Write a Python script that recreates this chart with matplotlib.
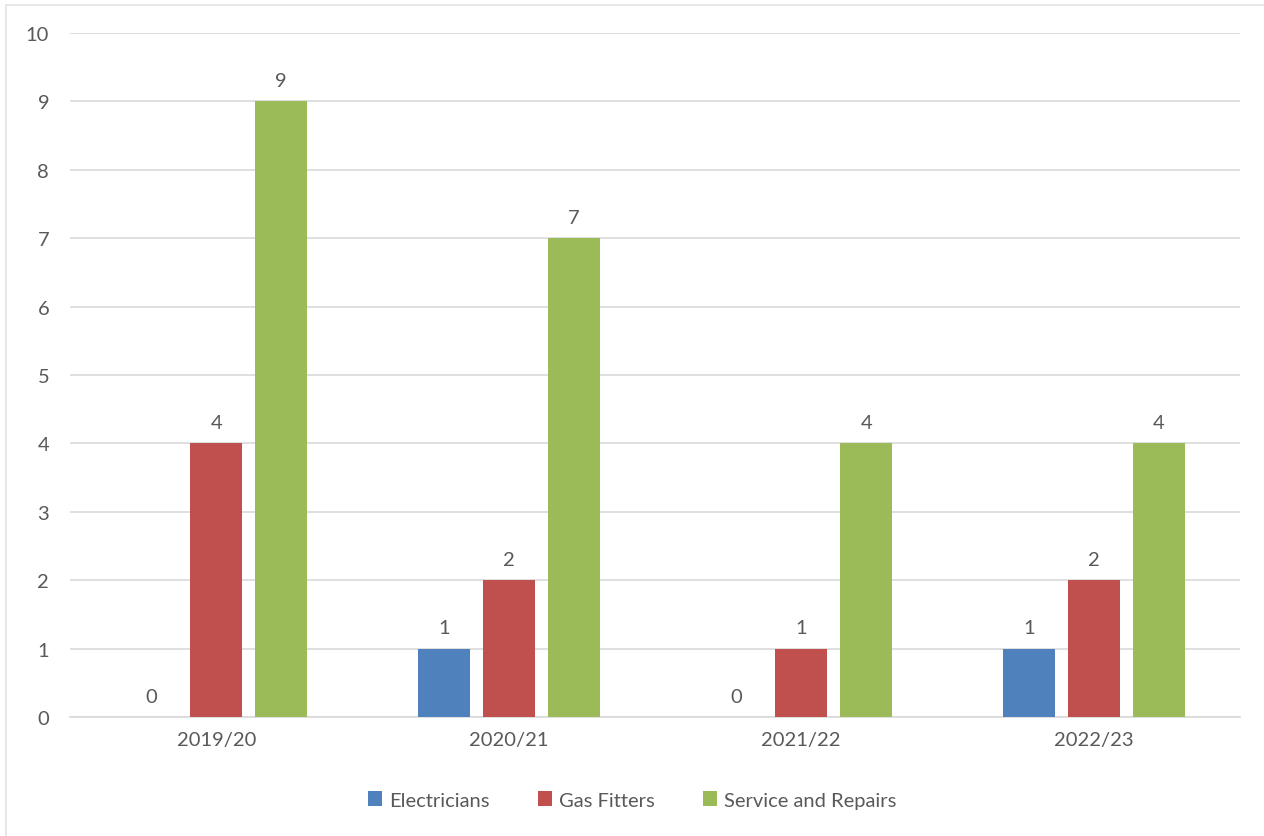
import numpy as np
import matplotlib.pyplot as plt
from matplotlib.patches import Rectangle

years = ["2019/20", "2020/21", "2021/22", "2022/23"]
electricians = [0, 1, 0, 1]
gas_fitters = [4, 2, 1, 2]
service_repairs = [9, 7, 4, 4]

series = [("Electricians", electricians, "#4F81BD"),
          ("Gas Fitters", gas_fitters, "#C0504D"),
          ("Service and Repairs", service_repairs, "#9BBB59")]

plt.rcParams['font.family'] = ['Lato', 'DejaVu Sans']
txt = "#595959"
fs = 14.5

fig = plt.figure(figsize=(12.64, 8.37), dpi=100)
ax = fig.add_axes([70/1264, 1 - 718/837, 1170/1264, 684/837])

# chart-area border (only left/top visible in the original)
fig.patches.append(Rectangle((6/1264, -0.1), 1.2, 1 - 6/837 + 0.1,
                             transform=fig.transFigure, fill=False,
                             edgecolor="#E3E3E3", linewidth=1.2))

x = np.arange(len(years))
w = 0.178
step = 0.222
for i, (name, vals, col) in enumerate(series):
    pos = x + (i - 1) * step
    ax.bar(pos, vals, w, color=col, label=name, zorder=3)
    for p, v in zip(pos, vals):
        ax.text(p, v + 0.18, str(v), ha="center", va="bottom",
                fontsize=fs, color=txt)

ax.set_xlim(-0.5, 3.5)
ax.set_ylim(0, 10)
ax.set_yticks(range(0, 11))
ax.set_xticks(x)
ax.set_xticklabels(years)
ax.yaxis.grid(True, color="#D9D9D9", linewidth=1.2, zorder=0)
ax.set_axisbelow(True)
for s in ["top", "right", "left"]:
    ax.spines[s].set_visible(False)
ax.spines["bottom"].set_color("#D9D9D9")
ax.spines["bottom"].set_linewidth(1.2)
ax.tick_params(axis="both", length=0, labelsize=fs, labelcolor=txt)
ax.tick_params(axis="y", pad=15)
ax.tick_params(axis="x", pad=10)

fig.legend(loc="center", bbox_to_anchor=(0.5, 1 - 801/837), ncol=3,
           frameon=False, fontsize=fs, labelcolor=txt,
           handlelength=0.7, handleheight=0.7, handletextpad=0.35,
           columnspacing=2.4)

fig.savefig("out.png", dpi=100)
plt.close(fig)
